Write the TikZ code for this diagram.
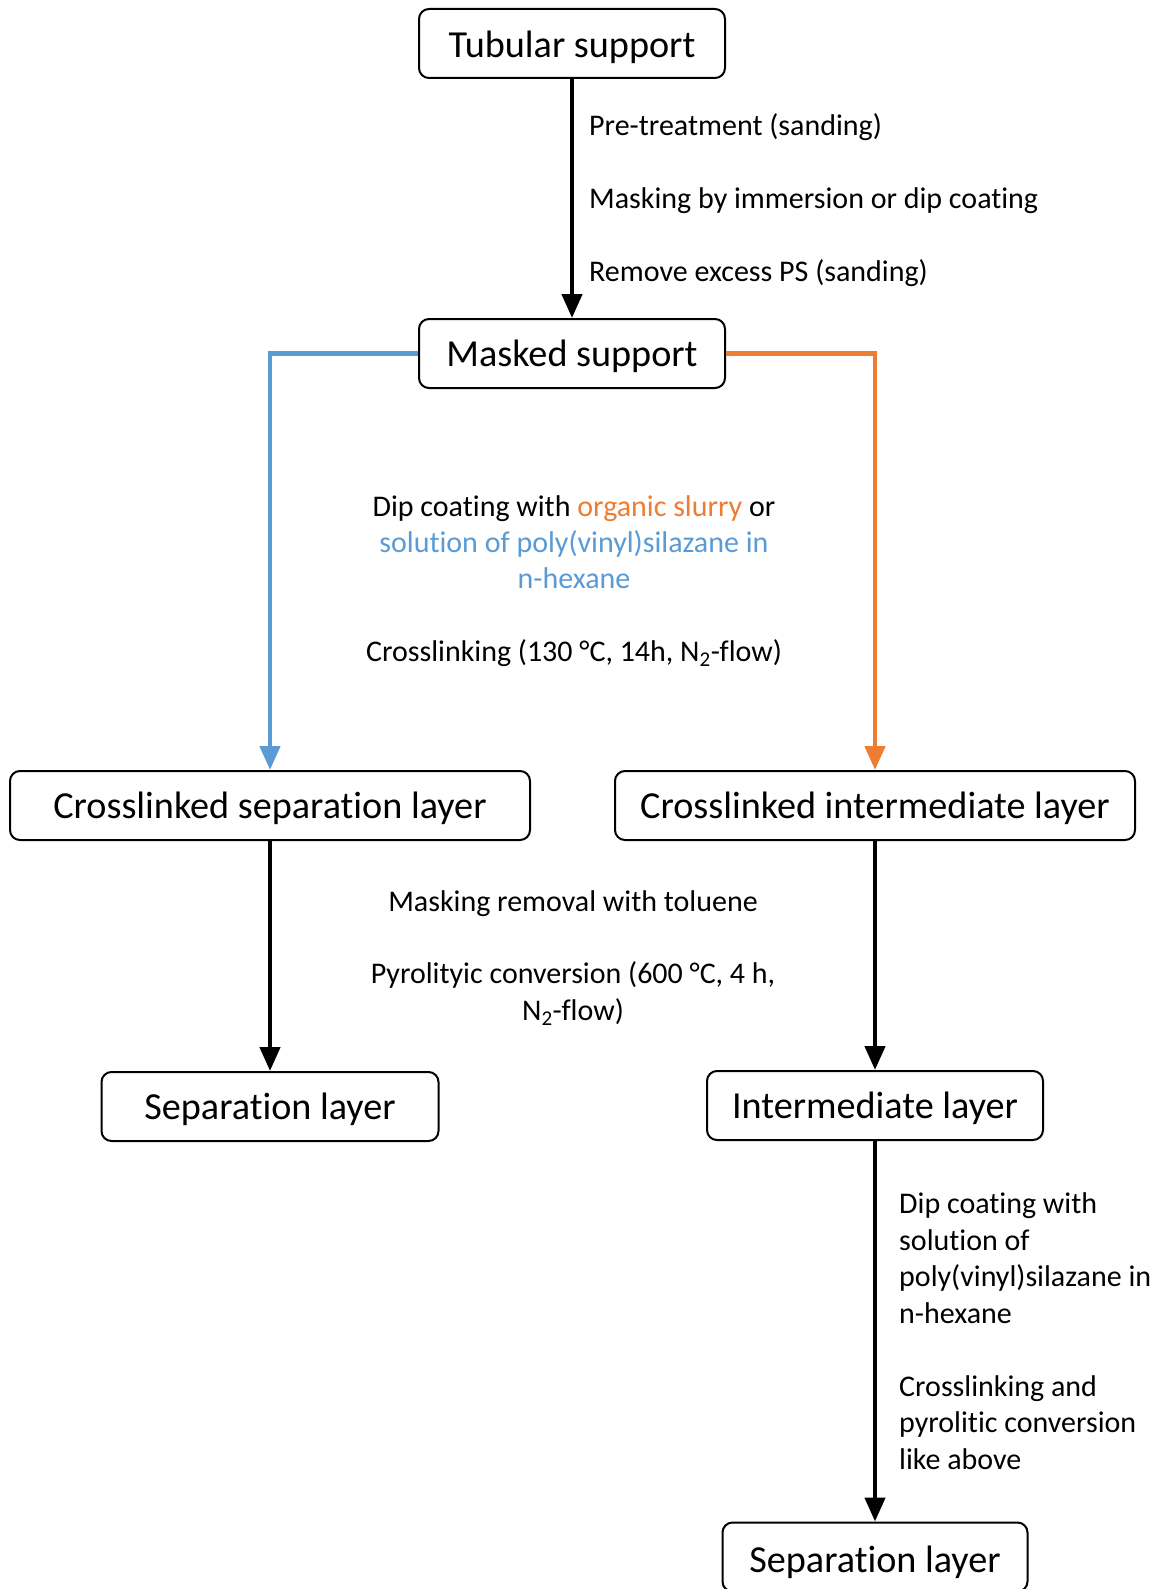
\documentclass[tikz,border=0pt]{standalone}
\usepackage{fontspec}
\setmainfont{Carlito}[Ligatures=NoCommon]
\usetikzlibrary{arrows.meta}
\definecolor{oblue}{HTML}{5B9BD5}
\definecolor{oorange}{HTML}{ED7D31}
\begin{document}
\begin{tikzpicture}[x=1pt,y=-1pt,
  box/.style={draw=black,line width=2pt,rounded corners=10pt,fill=white,
    minimum height=69pt,inner sep=0pt,text height=31pt,text depth=6pt,
    font=\fontsize{38.2}{46}\selectfont},
  lbl/.style={inner sep=0pt,anchor=base,font=\fontsize{30}{36.6}\selectfont},
  lblw/.style={lbl,anchor=base west},
  flow/.style={line width=4.5pt,-{Triangle[width=20pt,length=24pt]}},
]
\useasboundingbox (0,0) rectangle (1162,1589);
\fill[white] (0,0) rectangle (1162,1589);

\node[box,minimum width=306pt,text depth=2pt] (tub) at (572,43.5) {Tubular support};
\node[box,minimum width=306pt] (mask) at (572,353.5) {Masked support};
\node[box,minimum width=520pt] (csl) at (270,805.5) {Crosslinked separation layer};
\node[box,minimum width=520pt] (cil) at (875,805.5) {Crosslinked intermediate layer};
\node[box,minimum width=337pt] (sepl) at (270,1106.5) {Separation layer};
\node[box,minimum width=336pt] (intl) at (875,1105.5) {Intermediate layer};
\node[box,minimum width=305pt,text depth=0pt] (sepr) at (875,1557) {Separation layer};

\draw[flow,black] (tub) -- (mask);
\draw[flow,oblue] (mask.west) -| (csl.north);
\draw[flow,oorange] (mask.east) -| (cil.north);
\draw[flow,black] (csl) -- (sepl);
\draw[flow,black] (cil) -- (intl);
\draw[flow,black] (intl) -- (sepr);

\node[lblw] (l1) at (589,135.5) {Pre-treatment (sanding)};
\node[lblw] (l2) at (589,208.5) {Masking by immersion or dip coating};
\node[lblw] (l3) at (589,281) {Remove excess PS (sanding)};

\node[lbl] (m1a) at (574,516) {Dip coating with \textcolor{oorange}{organic slurry} or};
\node[lbl,text=oblue] (m1b) at (574,552.3) {solution of poly(vinyl)silazane in};
\node[lbl,text=oblue] (m1c) at (574,588.8) {n-hexane};
\node[lbl] (m2) at (574,661) {Crosslinking (130 °C, 14h, N\textsubscript{2}-flow)};

\node[lbl] (m3) at (573,911) {Masking removal with toluene};
\node[lbl] (m4a) at (573,983.5) {Pyrolityic conversion (600 °C, 4 h,};
\node[lbl] (m4b) at (573,1020) {N\textsubscript{2}-flow)};

\node[lblw] (r1a) at (899,1213.5) {Dip coating with};
\node[lblw] (r1b) at (899,1250) {solution of};
\node[lblw] (r1c) at (899,1286.5) {poly(vinyl)silazane in};
\node[lblw] (r1d) at (899,1323) {n-hexane};
\node[lblw] (r2a) at (899,1396) {Crosslinking and};
\node[lblw] (r2b) at (899,1432.5) {pyrolitic conversion};
\node[lblw] (r2c) at (899,1469) {like above};
\end{tikzpicture}
\end{document}
